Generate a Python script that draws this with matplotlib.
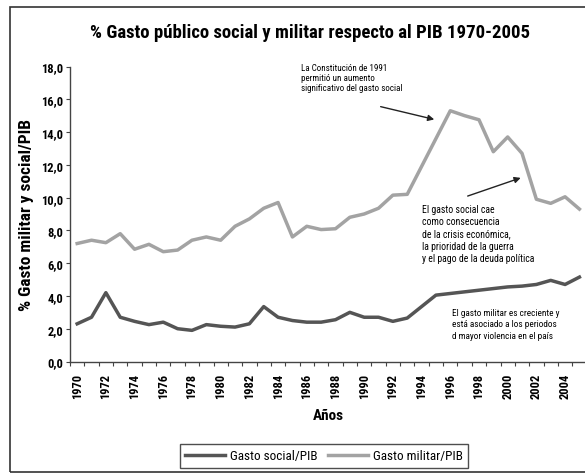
import numpy as np
import matplotlib
matplotlib.use('Agg')
import matplotlib.pyplot as plt
from matplotlib.patches import Rectangle

plt.rcParams['font.family'] = ['Roboto Condensed', 'Liberation Sans Narrow', 'Liberation Sans', 'DejaVu Sans']

##Data

years = list(range(1970, 2006))
gasto_social = [2.3, 2.7, 4.2, 2.7, 2.45, 2.25, 2.4, 2.0, 1.9, 2.25,
                2.15, 2.1, 2.3, 3.35, 2.7, 2.5, 2.4, 2.4, 2.55, 3.0,
                2.7, 2.7, 2.45, 2.65, 3.35, 4.05, 4.15, 4.25, 4.35, 4.45,
                4.55, 4.6, 4.7, 4.95, 4.7, 5.15]
gasto_militar = [7.2, 7.4, 7.25, 7.8, 6.85, 7.15, 6.7, 6.8, 7.4, 7.6,
                 7.4, 8.25, 8.7, 9.35, 9.7, 7.6, 8.25, 8.05, 8.1, 8.8,
                 9.0, 9.35, 10.15, 10.2, 11.9, 13.6, 15.3, 15.0, 14.75, 12.8,
                 13.7, 12.7, 9.9, 9.65, 10.05, 9.3]
yticks = np.arange(0, 19, 2)

##Figure

W, H = 585, 477
fig = plt.figure(figsize=(W/100, H/100), dpi=100)

#outer frame like the scanned chart
fig.patches.append(Rectangle((10/W, 4/H), 1.2, (H-12)/H, transform=fig.transFigure,
                             fill=False, edgecolor='#333333', lw=1.2))

left, right, bottom, top = 70, 586.6, 362.5, 67.5
ax = fig.add_axes([left/W, (H-bottom)/H, (right-left)/W, (bottom-top)/H])

x = np.arange(len(years))
ax.plot(x, gasto_social, color='#555555', lw=2.5, label='Gasto social/PIB', solid_joinstyle='round')
ax.plot(x, gasto_militar, color='#a3a3a3', lw=2.5, label='Gasto militar/PIB', solid_joinstyle='round')

ax.set_xlim(-0.5, len(years)-0.5)
ax.set_ylim(0, 18)
for s in ['top', 'right']:
    ax.spines[s].set_visible(False)
for s in ['left', 'bottom']:
    ax.spines[s].set_color('#444444')
    ax.spines[s].set_linewidth(1.0)

ax.set_yticks(yticks)
ax.set_yticklabels([f'{v:.1f}'.replace('.', ',') for v in yticks], fontsize=9, fontweight='bold')
ax.tick_params(axis='y', length=3, color='#444444', pad=2)

#ticks between categories, labels every 2 years
ax.set_xticks(np.arange(-0.5, len(years), 1))
ax.set_xticklabels([])
ax.set_xticks(x[::2], minor=True)
ax.set_xticklabels([str(y) for y in years[::2]], minor=True, rotation=90,
                   fontsize=9, fontweight='bold')
ax.tick_params(axis='x', which='major', length=3, color='#444444', direction='out')
ax.tick_params(axis='x', which='minor', length=0, pad=8)

ax.set_xlabel('Años', fontsize=11, fontweight='bold', labelpad=7)
ax.set_ylabel('% Gasto militar y social/PIB', fontsize=12.5, fontweight='bold', labelpad=5)

fig.text(310/W, 1-33/H, '% Gasto público social y militar respecto al PIB 1970-2005',
         ha='center', va='center', fontsize=13.5, fontweight='bold')

#annotations
ax.text(15.6, 18.2, 'La Constitución de 1991\npermitió un aumento\nsignificativo del gasto social',
        fontsize=6.5, va='top', ha='left', linespacing=1.15)
ax.annotate('', xy=(25.07, 14.73), xytext=(20.96, 15.59),
            arrowprops=dict(arrowstyle='-|>', color='#222222', lw=1.0, mutation_scale=9))
ax.text(24.0, 9.63, 'El gasto social cae\ncomo consecuencia\nde la crisis económica,\nla prioridad de la guerra\ny el pago de la deuda política',
        fontsize=7, va='top', ha='left', linespacing=1.3)
ax.annotate('', xy=(31.09, 11.26), xytext=(27.03, 10.04),
            arrowprops=dict(arrowstyle='-|>', color='#222222', lw=1.0, mutation_scale=9))
ax.text(26.1, 3.27, 'El gasto militar es creciente y\nestá asociado a los periodos\nd mayor violencia en el país',
        fontsize=6.7, va='top', ha='left', linespacing=1.35)

leg = fig.legend(loc='center', bbox_to_anchor=(324/W, 1-457/H), ncol=2, fontsize=9.5,
                 frameon=True, fancybox=False, edgecolor='#222222', handlelength=3,
                 columnspacing=0.8, handletextpad=0.4, borderpad=0.4)
leg.get_frame().set_linewidth(1.0)

fig.savefig('out.png', dpi=100)
